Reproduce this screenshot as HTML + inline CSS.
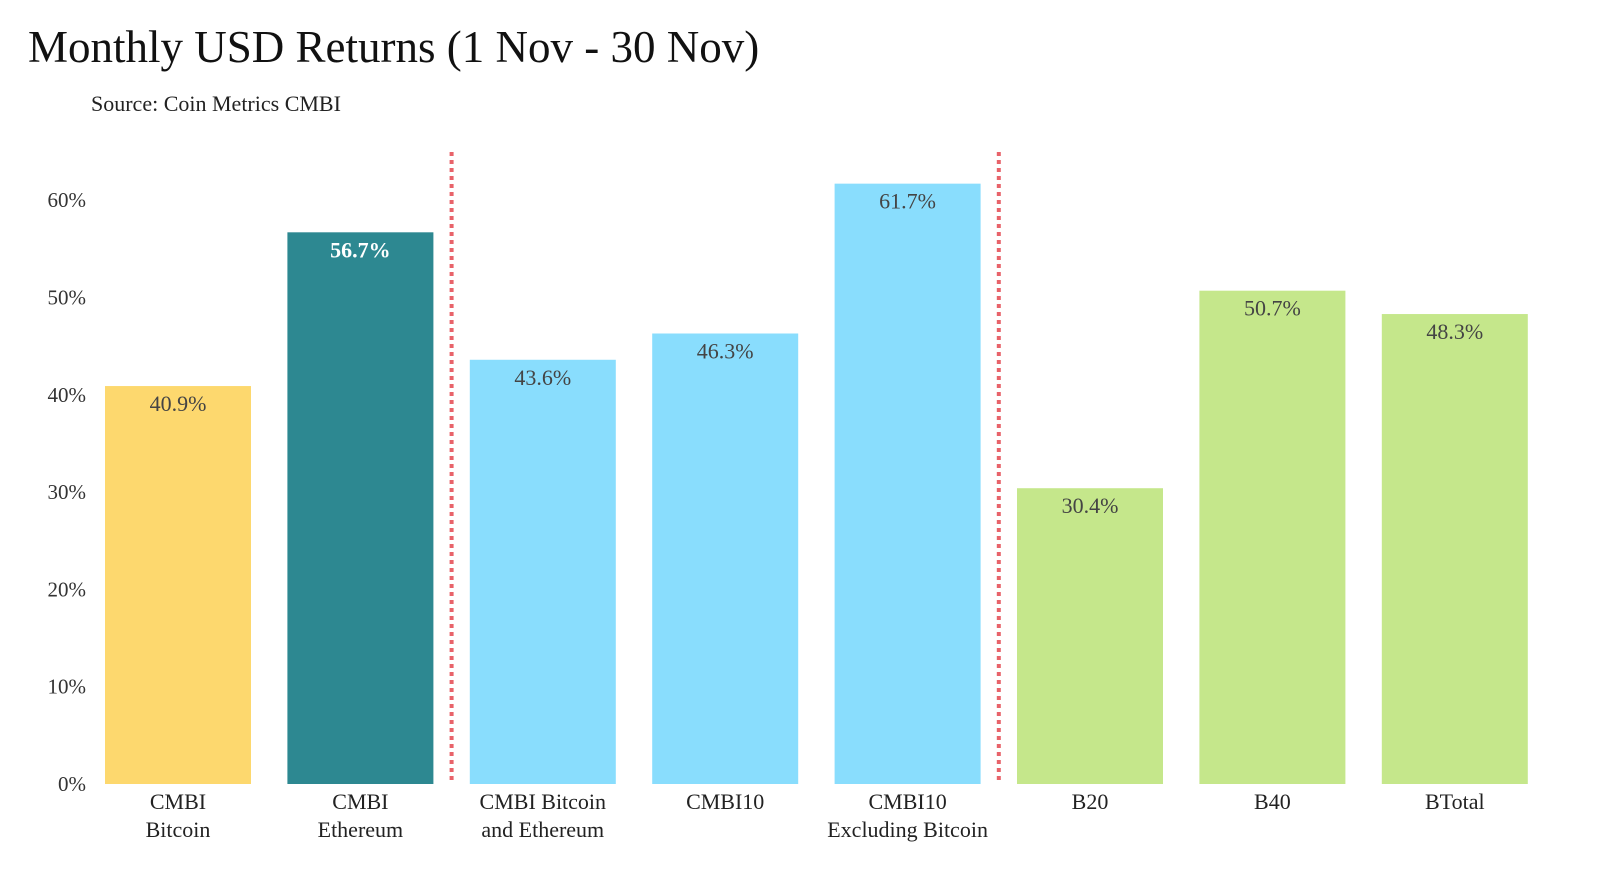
<!DOCTYPE html>
<html><head><meta charset="utf-8">
<style>
html,body{margin:0;padding:0;background:#fff;}
svg{display:block;font-family:"Liberation Serif",serif;}
</style></head>
<body>
<svg width="1600" height="882" viewBox="0 0 1600 882">
<text x="28" y="62" font-size="45" fill="#111">Monthly USD Returns (1 Nov - 30 Nov)</text>
<text x="91" y="111" font-size="22" fill="#222">Source: Coin Metrics CMBI</text>
<g id="yaxis"></g>
<g id="bars"></g>
<g id="xaxis"></g>
<g id="dividers"></g>
</svg>
<script>
const categories=[["CMBI","Bitcoin"],["CMBI","Ethereum"],["CMBI Bitcoin","and Ethereum"],["CMBI10"],["CMBI10","Excluding Bitcoin"],["B20"],["B40"],["BTotal"]];
const values=[40.9,56.7,43.6,46.3,61.7,30.4,50.7,48.3];
const colors=["#FDD86E","#2D8891","#89DDFD","#89DDFD","#89DDFD","#C5E78B","#C5E78B","#C5E78B"];
const yTicks=[0,10,20,30,40,50,60];
const dividerAfter=[1,4];
const NS="http://www.w3.org/2000/svg";
const y0=784, pxPer=9.73, x0=105, step=182.4, bw=146;
const yS=v=>y0-v*pxPer;
const xS=i=>x0+i*step;
function mk(tag,attrs,parent){const e=document.createElementNS(NS,tag);for(const k in attrs)e.setAttribute(k,attrs[k]);parent.appendChild(e);return e;}
const ya=document.getElementById('yaxis');
yTicks.forEach(t=>{const e=mk('text',{x:86,y:yS(t)+7,'text-anchor':'end','font-size':21,fill:'#333'},ya);


e.textContent=t+'%';});
const bg=document.getElementById('bars'), xa=document.getElementById('xaxis');
values.forEach((v,i)=>{
const r=mk('rect',{x:xS(i),y:yS(v),width:bw,height:y0-yS(v),fill:colors[i]},bg);


const dark=colors[i]==="#2D8891";
const t=mk('text',{x:xS(i)+bw/2,y:yS(v)+25,'text-anchor':'middle','font-size':22,fill:dark?'#fff':'#444','font-weight':dark?'bold':'normal'},bg);


t.textContent=v.toFixed(1)+'%';
categories[i].forEach((ln,j)=>{const c=mk('text',{x:xS(i)+bw/2,y:809+j*28,'text-anchor':'middle','font-size':22,fill:'#222'},xa);


c.textContent=ln;});
});
const dg=document.getElementById('dividers');
dividerAfter.forEach(i=>{const x=xS(i)+bw+(step-bw)/2;
const l=mk('line',{x1:x,x2:x,y1:152,y2:784,stroke:'#E8636A','stroke-width':4,'stroke-dasharray':'4 4'},dg);

});
</script>
</body></html>
